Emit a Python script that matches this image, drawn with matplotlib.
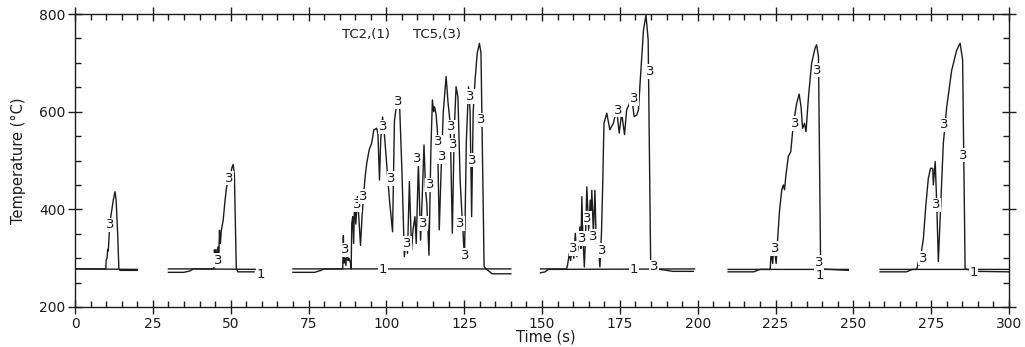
import numpy as np
import matplotlib
matplotlib.use('Agg')
import matplotlib.pyplot as plt
from matplotlib.ticker import MultipleLocator

nan = np.nan

# ---- TC2 (curve "1"): nearly flat trace, one list per recording burst ----
tc2_time = [0, 20, nan,
            30, 35, 37, 38, 60, nan,
            70, 77, 79, 80, 140, nan,
            149.5, 151, 152, 199, nan,
            209.8, 218, 220, 248.4, nan,
            258.6, 267, 269, 300]
tc2_temp = [278, 277, nan,
            271, 271, 274, 278, 277, nan,
            271, 271, 275, 278, 278, nan,
            270, 272, 277, 278, nan,
            272, 272, 277, 277, nan,
            272, 272, 277, 277]

# ---- TC5 (curve "3") bursts ----
b1_t = [0, 9.9, 10.0, 10.3, 10.5, 10.7, 11.0, 11.5, 12.3, 12.85, 13.2, 13.7, 14.1, 14.5, 20]
b1_T = [278, 278, 296, 300, 318, 315, 351, 385, 419, 436, 420, 350, 278, 275, 275]

b2_t = [30, 44.6, 44.8, 45.0, 45.3, 45.6, 45.9, 46.2, 46.4, 46.7, 47.0, 47.6, 48.2,
        48.7, 49.3, 49.9, 50.4, 50.8, 51.2, 51.8, 52.3, 57.5]
b2_T = [278, 278, 317, 285, 318, 290, 323, 300, 357, 330, 357, 378, 419,
        446, 460, 470, 485, 492, 470, 280, 272, 272]

b3_t = [70, 86.0, 86.2, 86.4, 86.7, 87.0, 87.3, 87.7, 88.0, 88.5, 88.7, 88.9, 89.2,
        89.5, 89.8, 90.2, 90.7, 91.2, 91.7, 92.2, 92.7, 93.2, 93.7, 94.5, 95.3, 96.0,
        96.9, 97.3, 97.8, 98.2, 98.8, 99.3, 100.5, 101.0, 102.0, 102.6, 103.2, 104.2,
        105.0, 105.8, 106.3, 106.8, 107.4, 108.1, 108.6, 109.2, 109.6, 110.3, 111.0,
        111.5, 112.1, 112.6, 113.0, 113.7, 114.3, 114.8, 115.2, 115.5, 116.0, 116.4,
        117.0, 117.6, 118.3, 119.2, 119.8, 120.5, 121.2, 121.8, 122.4, 123.0, 123.7,
        124.2, 124.6, 125.1, 125.7, 126.4, 126.9, 127.4, 127.9, 128.5, 129.2, 129.9,
        130.4, 131.0, 131.4, 132, 134, 140]
b3_T = [278, 278, 346, 290, 300, 285, 316, 295, 300, 290, 278, 371, 385,
        330, 419, 370, 426, 380, 326, 385, 430, 467, 494, 522, 536, 563,
        566, 555, 460, 543, 589, 560, 460, 420, 354, 581, 610, 624,
        480, 303, 340, 310, 457, 316, 360, 385, 330, 494, 337,
        420, 532, 440, 412, 306, 520, 624, 600, 610, 593, 560,
        358, 480, 600, 672, 620, 576, 351, 560, 651, 630, 460,
        400, 358, 297, 540, 651, 600, 385, 600, 665, 720, 740,
        720, 450, 283, 278, 268, 268]

b4_t = [149.5, 157.9, 158.2, 158.8, 159.2, 159.6, 160.2, 160.7, 161.2, 161.7, 162.2,
        162.5, 162.8, 163.1, 163.6, 164.0, 164.4, 165.0, 165.5, 165.8, 166.0, 166.5,
        167.0, 167.3, 167.6, 168.1, 168.6, 169.1, 169.5, 169.9, 170.8, 171.8, 172.9,
        174.0, 174.8, 175.6, 176.5, 177.2, 178.0, 178.8, 179.6, 180.4, 181.0, 181.5,
        182.6, 183.4, 184.1, 184.9, 185.3, 188, 192, 198.6]
b4_T = [278, 278, 286, 310, 295, 323, 300, 351, 303, 330, 364,
        320, 426, 351, 282, 350, 446, 357, 419, 380, 439, 351,
        439, 360, 337, 323, 282, 351, 450, 576, 597, 563, 576,
        604, 556, 597, 553, 604, 615, 631, 590, 593, 604, 658,
        767, 798, 747, 289, 278, 277, 273, 273]

b5_t = [209.8, 223.3, 223.6, 224.1, 224.5, 225.2, 225.6, 226.3, 227.0, 227.5, 227.9,
        228.3, 229.1, 229.9, 230.7, 231.8, 232.6, 233.2, 233.7, 234.3, 234.8, 235.6,
        236.6, 237.7, 238.2, 238.8, 239.5, 248.4]
b5_T = [277, 277, 313, 289, 330, 289, 330, 398, 439, 450, 440,
        467, 508, 518, 573, 617, 636, 610, 566, 576, 559, 631,
        699, 730, 737, 713, 278, 275]

b6_t = [258.6, 270.4, 270.9, 271.2, 272.0, 272.5, 273.3, 274.1, 274.8, 275.5, 275.7,
        276.3, 276.8, 277.3, 277.9, 278.9, 280.0, 281.6, 283.2, 284.3, 285.1, 285.9,
        289, 300]
b6_T = [277, 277, 293, 286, 320, 340, 409, 464, 484, 484, 450,
        498, 409, 293, 385, 535, 610, 685, 726, 740, 706, 278,
        273, 272]

# curve-number labels placed along the traces
tc5_lbl_t = [11.2, 46.0, 49.5, 86.7, 90.5, 92.6, 99.0, 101.7, 103.9, 106.8, 109.8,
             111.9, 114.0, 116.7, 118.0, 121.0, 121.5, 123.7, 125.3, 127.1, 127.7,
             130.6, 160.1, 162.8, 164.6, 166.6, 169.2, 174.5, 179.6, 184.7, 186.0,
             224.9, 231.3, 238.5, 239.1, 272.5, 276.6, 279.2, 285.4]
tc5_lbl_T = [368, 296, 464, 317, 409, 426, 569, 463, 620, 330, 504,
             371, 450, 538, 508, 569, 532, 371, 306, 631, 501,
             583, 320, 340, 382, 345, 316, 603, 627, 682, 282,
             320, 576, 685, 292, 300, 409, 573, 511]
tc2_lbl_t = [59.6, 99.0, 179.6, 239.1, 288.6]
tc2_lbl_T = [266, 277, 277, 265, 270]

xticks = [0, 25, 50, 75, 100, 125, 150, 175, 200, 225, 250, 275, 300]
yticks = [200, 400, 600, 800]


def join(*parts):
    out = []
    for i, p in enumerate(parts):
        if i:
            out.append(nan)
        out.extend(p)
    return np.array(out, dtype=float)


tc5_time = join(b1_t, b2_t, b3_t, b4_t, b5_t, b6_t)
tc5_temp = join(b1_T, b2_T, b3_T, b4_T, b5_T, b6_T)

plt.rcParams['font.family'] = ['DejaVu Sans']
fig = plt.figure(figsize=(10.25, 3.47), dpi=100)
ax = fig.add_axes([75 / 1025, 1 - 307 / 347, 934 / 1025, 293 / 347])

ink = '#1c1c1c'
ax.plot(tc2_time, tc2_temp, color=ink, lw=1.0, zorder=2)
ax.plot(tc5_time, tc5_temp, color=ink, lw=1.0, zorder=2)

for t, T in zip(tc5_lbl_t, tc5_lbl_T):
    ax.text(t, T, '3', fontsize=9.5, color=ink, ha='center', va='center', zorder=3,
            bbox=dict(boxstyle='square,pad=0.05', fc='white', ec='none'))
for t, T in zip(tc2_lbl_t, tc2_lbl_T):
    ax.text(t, T, '1', fontsize=9.5, color=ink, ha='center', va='center', zorder=3,
            bbox=dict(boxstyle='square,pad=0.05', fc='white', ec='none'))

ax.text(93.5, 757, 'TC2,(1)', fontsize=9.5, color=ink, ha='center', va='center')
ax.text(116.4, 757, 'TC5,(3)', fontsize=9.5, color=ink, ha='center', va='center')

ax.set_xlim(0, 300)
ax.set_ylim(200, 800)
ax.set_xticks(xticks)
ax.set_yticks(yticks)
ax.xaxis.set_minor_locator(MultipleLocator(5))
ax.yaxis.set_minor_locator(MultipleLocator(50))
ax.tick_params(which='major', direction='inout', length=10, width=1.0, color=ink,
               top=True, right=True, labelsize=10, pad=2, labelcolor=ink)
ax.tick_params(which='minor', direction='in', length=4, width=1.0, color=ink,
               top=True, right=True)
for s in ax.spines.values():
    s.set_linewidth(1.0)
    s.set_color(ink)

ax.set_xlabel('Time (s)', fontsize=10.5, color=ink, va='center')
ax.xaxis.set_label_coords(0.504, -(337 - 307) / 293)
ax.set_ylabel('Temperature (°C)', fontsize=10.5, color=ink, va='center')
ax.yaxis.set_label_coords((18 - 75) / 934, 0.5)

fig.savefig('out.png', dpi=100, facecolor='white')
